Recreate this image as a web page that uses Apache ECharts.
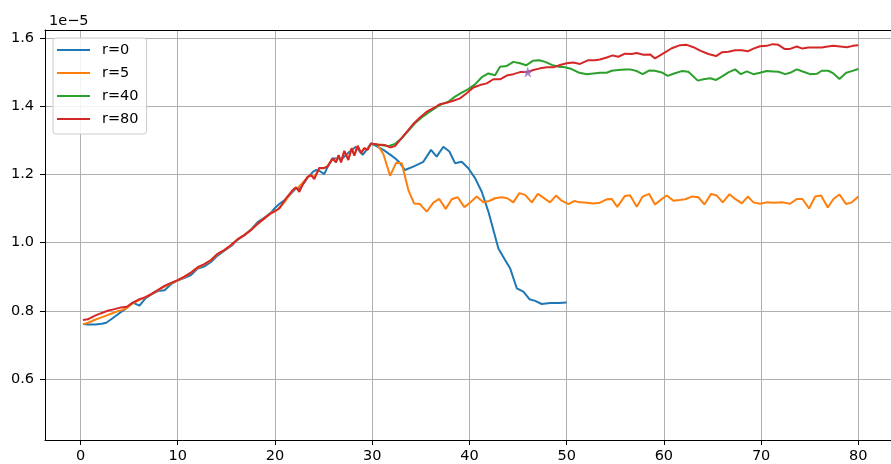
<!DOCTYPE html>
<html>
<head>
<meta charset="utf-8">
<script src="https://cdn.jsdelivr.net/npm/echarts@6/dist/echarts.min.js"></script>
<style>html,body{margin:0;padding:0;background:#fff}#c{width:891px;height:464px}</style>
</head>
<body>
<div id="c"></div>
<script>
// values in units of 1e-5
const seriesNames = ['r=0', 'r=5', 'r=40', 'r=80'];
const xTicks = [0, 10, 20, 30, 40, 50, 60, 70, 80];
const yTicks = [0.6, 0.8, 1.0, 1.2, 1.4, 1.6];
const offsetText = '1e\u22125';

const r0 = [[0.25,0.761],[0.8,0.760],[1.5,0.760],[2.2,0.762],[2.65,0.765],[3.3,0.778],[4.0,0.793],[4.7,0.807],[5.38,0.824],[6.07,0.815],[6.7,0.837],[7.3,0.848],[7.95,0.858],[8.65,0.860],[9.3,0.878],[10.0,0.889],[10.7,0.897],[11.37,0.905],[12.05,0.924],[12.74,0.930],[13.42,0.943],[14.1,0.962],[14.8,0.976],[15.5,0.990],[16.16,1.008],[16.85,1.022],[17.54,1.038],[18.22,1.060],[18.9,1.073],[19.6,1.088],[19.95,1.100],[20.45,1.113],[21.14,1.128],[21.8,1.148],[22.2,1.160],[22.5,1.157],[22.85,1.170],[23.35,1.190],[23.93,1.208],[24.26,1.213],[24.6,1.210],[25.07,1.201],[25.43,1.223],[25.93,1.247],[26.5,1.247],[26.96,1.247],[27.6,1.265],[28.33,1.281],[29.03,1.257],[29.5,1.275],[29.88,1.291],[30.45,1.283],[31.15,1.272],[31.85,1.258],[32.45,1.245],[32.86,1.233],[33.37,1.213],[34.23,1.223],[35.26,1.237],[36.05,1.272],[36.63,1.252],[37.32,1.281],[37.94,1.267],[38.52,1.233],[39.21,1.237],[39.89,1.218],[40.58,1.189],[41.27,1.149],[41.95,1.091],[42.98,0.983],[43.67,0.949],[44.18,0.925],[44.87,0.866],[45.55,0.856],[46.17,0.834],[46.76,0.829],[47.44,0.820],[48.3,0.823],[49.16,0.823],[50.0,0.824]];

const r5 = [[0.25,0.761],[0.8,0.765],[1.44,0.773],[2.1,0.780],[2.64,0.786],[3.2,0.792],[3.67,0.797],[4.25,0.802],[4.76,0.808],[5.38,0.822],[6.07,0.832],[6.7,0.840],[7.27,0.849],[7.95,0.860],[8.64,0.871],[9.33,0.881],[10.0,0.889],[10.68,0.899],[11.37,0.912],[12.05,0.926],[12.74,0.936],[13.42,0.948],[14.1,0.966],[14.8,0.978],[15.48,0.992],[16.16,1.009],[16.85,1.022],[17.54,1.037],[18.22,1.055],[18.9,1.071],[19.6,1.087],[20.28,1.097],[20.97,1.118],[21.48,1.140],[22.0,1.158],[22.33,1.160],[22.85,1.175],[23.36,1.192],[23.71,1.198],[24.05,1.192],[24.56,1.218],[25.07,1.218],[25.42,1.225],[25.93,1.245],[26.28,1.237],[26.55,1.255],[26.8,1.237],[27.13,1.267],[27.55,1.245],[27.89,1.276],[28.16,1.257],[28.5,1.282],[28.85,1.264],[29.19,1.276],[29.53,1.273],[29.88,1.289],[30.48,1.289],[31.15,1.260],[31.84,1.196],[32.46,1.234],[33.04,1.233],[33.72,1.154],[34.31,1.115],[34.91,1.113],[35.61,1.091],[36.29,1.117],[36.9,1.128],[37.56,1.099],[38.18,1.127],[38.8,1.133],[39.48,1.104],[40.06,1.117],[40.75,1.135],[41.44,1.118],[42.02,1.122],[42.64,1.130],[43.32,1.133],[43.9,1.130],[44.52,1.118],[45.14,1.145],[45.73,1.140],[46.42,1.118],[47.04,1.143],[47.6,1.132],[48.29,1.118],[48.91,1.138],[49.49,1.123],[50.18,1.113],[50.76,1.122],[51.38,1.118],[52.1,1.117],[52.74,1.115],[53.43,1.117],[54.12,1.127],[54.63,1.128],[55.21,1.105],[56.0,1.137],[56.52,1.139],[57.21,1.105],[57.82,1.135],[58.47,1.143],[59.09,1.112],[59.7,1.126],[60.29,1.138],[60.98,1.123],[61.6,1.125],[62.18,1.127],[62.87,1.135],[63.55,1.133],[64.17,1.112],[64.86,1.143],[65.44,1.138],[66.06,1.118],[66.75,1.142],[67.33,1.128],[68.02,1.115],[68.63,1.135],[69.21,1.118],[69.89,1.114],[70.58,1.118],[71.27,1.117],[72.23,1.118],[72.98,1.114],[73.67,1.128],[74.25,1.128],[74.94,1.100],[75.56,1.135],[76.17,1.138],[76.86,1.103],[77.44,1.128],[78.06,1.141],[78.75,1.113],[79.33,1.118],[80.0,1.135]];

const r40 = [[29.88,1.289],[30.8,1.286],[31.66,1.283],[32.34,1.289],[33.03,1.306],[33.72,1.328],[34.4,1.350],[35.09,1.367],[35.77,1.381],[36.46,1.394],[37.15,1.406],[37.83,1.413],[38.52,1.428],[39.21,1.440],[39.89,1.450],[40.58,1.464],[41.27,1.485],[41.95,1.496],[42.64,1.491],[43.15,1.516],[43.84,1.518],[44.52,1.530],[45.21,1.526],[45.83,1.520],[46.52,1.533],[47.2,1.535],[47.79,1.530],[48.48,1.521],[49.16,1.516],[49.85,1.514],[50.52,1.509],[51.2,1.499],[52.07,1.494],[52.75,1.496],[53.43,1.498],[54.12,1.498],[54.63,1.504],[55.32,1.506],[56.0,1.508],[56.52,1.508],[57.21,1.503],[57.82,1.494],[58.51,1.505],[59.09,1.504],[59.78,1.499],[60.4,1.489],[61.05,1.496],[61.84,1.503],[62.52,1.501],[63.49,1.475],[64.07,1.479],[64.76,1.482],[65.37,1.477],[65.96,1.487],[66.64,1.499],[67.33,1.508],[67.92,1.494],[68.53,1.502],[69.21,1.494],[69.89,1.498],[70.58,1.503],[71.27,1.502],[71.78,1.501],[72.47,1.494],[72.98,1.498],[73.67,1.508],[74.35,1.501],[75.04,1.494],[75.73,1.495],[76.24,1.504],[76.92,1.504],[77.44,1.496],[78.06,1.480],[78.75,1.498],[79.33,1.503],[80.0,1.509]];

const r80 = [[0.25,0.773],[0.75,0.775],[1.44,0.785],[2.13,0.793],[2.8,0.800],[3.5,0.805],[4.19,0.810],[4.76,0.812],[5.38,0.824],[6.07,0.834],[6.69,0.840],[7.27,0.849],[7.95,0.861],[8.64,0.873],[9.33,0.882],[10.0,0.890],[10.68,0.900],[11.37,0.912],[12.05,0.928],[12.74,0.937],[13.42,0.949],[14.1,0.967],[14.79,0.978],[15.48,0.993],[16.16,1.010],[16.85,1.022],[17.54,1.037],[18.22,1.055],[18.91,1.071],[19.59,1.086],[19.93,1.091],[20.45,1.100],[21.14,1.130],[21.82,1.154],[22.17,1.162],[22.51,1.149],[22.85,1.170],[23.36,1.193],[23.71,1.198],[24.05,1.186],[24.56,1.219],[25.07,1.219],[25.42,1.223],[25.93,1.247],[26.28,1.235],[26.55,1.257],[26.8,1.235],[27.13,1.269],[27.55,1.242],[27.89,1.277],[28.16,1.255],[28.51,1.284],[28.85,1.262],[29.19,1.277],[29.53,1.272],[29.88,1.291],[30.5,1.288],[31.32,1.286],[31.84,1.279],[32.35,1.283],[32.87,1.301],[33.56,1.325],[34.23,1.348],[34.91,1.367],[35.61,1.384],[36.29,1.394],[36.98,1.406],[37.66,1.410],[38.35,1.416],[39.03,1.423],[39.72,1.438],[40.41,1.455],[41.09,1.462],[41.78,1.467],[42.46,1.479],[43.15,1.479],[43.84,1.490],[44.52,1.494],[45.21,1.500],[45.9,1.500],[46.58,1.506],[47.27,1.511],[47.96,1.514],[48.64,1.514],[49.33,1.521],[50.0,1.526],[50.69,1.528],[51.38,1.524],[52.23,1.535],[52.9,1.535],[53.43,1.537],[54.12,1.543],[54.73,1.549],[55.32,1.545],[56.0,1.554],[56.69,1.553],[57.21,1.556],[57.89,1.551],[58.58,1.552],[59.09,1.540],[59.95,1.555],[60.81,1.570],[61.67,1.579],[62.35,1.580],[63.04,1.573],[63.73,1.563],[64.58,1.553],[65.37,1.547],[65.96,1.558],[66.64,1.560],[67.33,1.564],[68.02,1.564],[68.63,1.561],[69.21,1.569],[69.89,1.576],[70.58,1.577],[71.19,1.582],[71.78,1.580],[72.4,1.568],[72.98,1.568],[73.67,1.575],[74.25,1.569],[74.87,1.572],[75.56,1.572],[76.24,1.572],[76.86,1.575],[77.44,1.577],[78.13,1.575],[78.82,1.573],[79.43,1.577],[80.0,1.579]];

const starPoint = [[46.0, 1.500]];

const colors = ['#1f77b4', '#ff7f0e', '#2ca02c', '#d62728'];
const FONT = 'DejaVu Sans';
const FS = 14.5;

const chart = echarts.init(document.getElementById('c'), null, {renderer: 'canvas'});

function lineSeries(name, data, color) {
  return {
    name: name, type: 'line', data: data, showSymbol: false, symbol: 'none',
    lineStyle: {color: color, width: 2}, itemStyle: {color: color},
    animation: false, z: 3
  };
}

const option = {
  animation: false,
  backgroundColor: '#ffffff',
  title: {
    text: offsetText, left: 44, top: 9,
    textStyle: {fontFamily: FONT, fontSize: FS, fontWeight: 'normal', color: '#000'}
  },
  grid: {left: 45, right: 0, top: 30, bottom: 24, containLabel: false},
  legend: {
    data: seriesNames.map((n, i) => ({name: n, icon: 'rect', itemStyle: {color: colors[i]}})),
    orient: 'vertical', left: 53, top: 38,
    itemWidth: 33, itemHeight: 2, itemGap: 7,
    padding: [4, 8, 7, 4],
    backgroundColor: 'rgba(255,255,255,0.85)',
    borderColor: '#cccccc', borderWidth: 1, borderRadius: 3,
    textStyle: {fontFamily: FONT, fontSize: FS, color: '#000', lineHeight: 16, padding: [0, 0, 0, 7]},
    selectedMode: false
  },
  xAxis: [{
    type: 'value', min: -3.65, max: 83.36,
    axisLine: {show: true, onZero: false, lineStyle: {color: '#000', width: 1}},
    axisTick: {show: true, length: 5, lineStyle: {color: '#000'}, customValues: xTicks},
    axisLabel: {margin: 9, fontFamily: FONT, fontSize: FS, color: '#000', customValues: xTicks},
    splitLine: {show: true, lineStyle: {color: '#b0b0b0', width: 1}}
  }, {
    type: 'value', position: 'top', min: -3.65, max: 83.36,
    axisLine: {show: true, onZero: false, lineStyle: {color: '#000', width: 1}},
    axisTick: {show: false}, axisLabel: {show: false}, splitLine: {show: false}
  }],
  yAxis: {
    type: 'value', min: 0.4211, max: 1.6235,
    axisLine: {show: true, onZero: false, lineStyle: {color: '#000', width: 1}},
    axisTick: {show: true, length: 5, lineStyle: {color: '#000'}, customValues: yTicks},
    axisLabel: {margin: 11, fontFamily: FONT, fontSize: FS, color: '#000', customValues: yTicks,
      formatter: v => v.toFixed(1)},
    splitLine: {show: true, lineStyle: {color: '#b0b0b0', width: 1}}
  },
  series: [
    lineSeries(seriesNames[0], r0, colors[0]),
    lineSeries(seriesNames[1], r5, colors[1]),
    lineSeries(seriesNames[2], r40, colors[2]),
    lineSeries(seriesNames[3], r80, colors[3]),
    {
      name: 'star', type: 'scatter', data: starPoint, z: 4,
      symbol: 'path://M50,0 L61.2,34.5 L97.6,34.5 L68.2,55.9 L79.4,90.5 L50,69.1 L20.6,90.5 L31.8,55.9 L2.4,34.5 L38.8,34.5 Z',
      symbolSize: 11, itemStyle: {color: '#9467bd'}
    }
  ]
};
chart.setOption(option);
</script>
</body>
</html>
